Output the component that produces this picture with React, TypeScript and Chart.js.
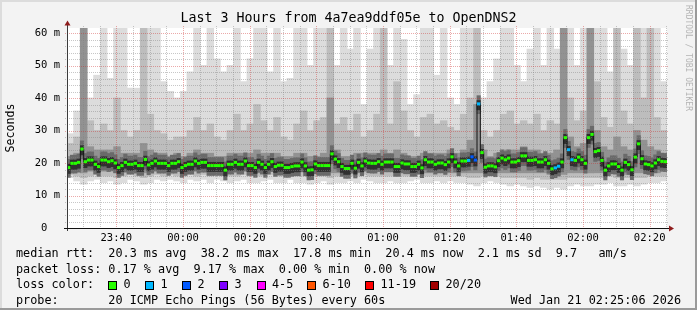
import React, { useEffect, useRef } from "react";
import { Chart, registerables } from "chart.js";

Chart.register(...registerables);

const W = 697;
const H = 310;

// ---------- text ----------
const TITLE = "Last 3 Hours from 4a7ea9ddf05e to OpenDNS2";
const Y_AXIS_TITLE = "Seconds";
const WATERMARK = "RRDTOOL / TOBI OETIKER";
const X_TICK_LABELS = ["23:40", "00:00", "00:20", "00:40", "01:00", "01:20", "01:40", "02:00", "02:20"];
const Y_TICK_VALUES = [0, 10, 20, 30, 40, 50, 60];
const Y_TICK_LABELS = ["0  ", "10 m", "20 m", "30 m", "40 m", "50 m", "60 m"];
const RTT_STATS = ["20.3 ms avg", "38.2 ms max", "17.8 ms min", "20.4 ms now", "2.1 ms sd", "9.7", "am/s"];
const LOSS_STATS = ["0.17 % avg", "9.17 % max", "0.00 % min", "0.00 % now"];
const LOSS_LEGEND_LABELS = ["0", "1", "2", "3", "4-5", "6-10", "11-19", "20/20"];
const LOSS_LEGEND_COLORS = ["#26ff00", "#00b8ff", "#0059ff", "#7e00ff", "#ff00ff", "#ff5500", "#ff0000", "#a10000"];
const PROBE_TEXT = "20 ICMP Echo Pings (56 Bytes) every 60s";
const DATE_TEXT = "Wed Jan 21 02:25:06 2026";

// graph starts at 23:25:12 (minutes of day)
const START_MIN = 23 * 60 + 25.2;
const SPAN_MIN = 180;
const Y_MAX = 61.54;

// ---------- data: median rtt per minute (ms) ----------
const MEDIAN_RTT = [
  18.6, 19.9, 19.9, 20.2, 24.3, 20.4, 20.9, 20.9, 19.6, 18.9,
  20.9, 20.9, 20.4, 20.7, 20.0, 18.6, 19.2, 20.2, 19.6, 19.6,
  19.9, 19.2, 19.2, 21.1, 19.4, 19.9, 20.6, 19.9, 19.9, 19.9,
  19.2, 19.9, 19.9, 20.4, 18.6, 19.2, 19.6, 19.6, 20.6, 19.9,
  20.2, 20.2, 19.2, 19.2, 19.2, 19.2, 19.2, 17.8, 19.6, 19.6,
  20.2, 19.6, 19.6, 20.6, 19.2, 19.2, 18.6, 20.2, 19.6, 18.6,
  19.6, 20.4, 18.9, 19.3, 19.3, 18.6, 18.6, 18.9, 19.1, 19.1,
  20.3, 19.1, 17.8, 17.9, 19.7, 19.2, 19.2, 19.2, 19.2, 22.8,
  21.2, 20.4, 18.9, 18.3, 18.3, 19.9, 18.4, 20.2, 19.1, 20.6,
  20.0, 19.9, 19.9, 20.4, 19.6, 20.3, 20.3, 20.3, 18.9, 18.9,
  20.0, 19.7, 19.7, 18.9, 18.9, 19.6, 18.5, 21.0, 20.3, 20.3,
  19.6, 20.0, 20.0, 19.5, 20.3, 21.9, 20.3, 19.1, 20.6, 20.6,
  20.8, 21.9, 20.9, 38.2, 23.2, 18.7, 19.1, 19.1, 18.8, 20.7,
  21.5, 21.0, 21.5, 20.3, 20.3, 20.7, 22.2, 22.2, 20.8, 20.8,
  21.0, 20.3, 20.3, 21.0, 19.9, 18.2, 18.5, 19.0, 20.3, 27.8,
  24.1, 21.0, 20.8, 21.8, 21.0, 19.9, 27.8, 28.8, 23.5, 23.8,
  20.8, 17.8, 19.1, 19.7, 19.7, 18.9, 17.8, 20.2, 19.5, 17.9,
  21.8, 25.9, 21.3, 19.7, 19.5, 19.1, 20.0, 21.0, 20.5, 20.4,
];

// minutes with packet loss, and the lost-packet count there
const LOSS_MINUTES = [120, 121, 122, 123, 146, 147, 150, 151];
const LOSS_COUNTS = [1, 2, 2, 1, 1, 1, 1, 1];

// ---------- data: smoke, one column per 2 minutes (ms) ----------
const SMOKE_LIGHT_LO = [
  15.5, 14.5, 13.5, 14.5, 15, 14, 14.5, 13.5, 14, 15,
  14.5, 13.5, 14, 15, 14.5, 15, 14.5, 14, 15, 14.5,
  15, 14, 15, 14.5, 14, 14.5, 15, 14, 14, 14.5,
  15, 14, 14, 15, 14, 14, 13.5, 14, 14.5, 13.5,
  14, 14, 14.5, 14, 15, 14.5, 14, 14, 14.5, 14,
  14, 14.5, 15, 14, 14, 14.5, 14, 14.5, 14, 14,
  13.5, 13, 14, 14.5, 14, 13.5, 13, 13.5, 13, 12.5,
  13, 12.5, 12, 12.5, 12, 13, 13.5, 13, 13, 13.5,
  13.5, 14, 13, 13, 13.5, 13, 13.5, 14, 14, 14.5,
];
const SMOKE_MID_LO = [
  16.5, 16, 15.5, 16, 16.5, 16, 16, 15.5, 16, 16.5,
  16, 15.5, 16, 16.5, 16, 16.5, 16, 16, 16.5, 16,
  16.5, 16, 16.5, 16, 16, 16, 16.5, 16, 16, 16,
  16.5, 16, 16, 16.5, 16, 16, 15.5, 16, 16, 15.5,
  16, 16, 16, 16, 16.5, 16, 16, 16, 16, 16,
  16, 16, 16.5, 16, 16, 16, 16, 16, 16, 16,
  15.5, 15.5, 16, 16, 16, 15.5, 15.5, 15.5, 15.5, 15,
  15.5, 15, 15, 15, 15, 15.5, 15.5, 15.5, 15.5, 15.5,
  15.5, 16, 15.5, 15.5, 15.5, 15.5, 15.5, 16, 16, 16,
];
const SMOKE_DARK_LO = [
  17.5, 17.5, 17, 17.5, 17.5, 17.5, 17.5, 17, 17.5, 17.5,
  17.5, 17, 17, 17.5, 17.5, 17.5, 17.5, 17, 17.5, 17.5,
  17.5, 17.5, 17.5, 17, 17, 17.5, 17.5, 17.5, 17, 17.5,
  17.5, 17.5, 17, 17, 17, 17.5, 17, 17, 17, 17,
  17, 17, 17, 17, 17.5, 17.5, 17.5, 17.5, 17.5, 17,
  17, 17, 17, 17, 17, 17, 17, 17, 17, 17,
  17, 17, 17, 17, 17, 17, 17, 17, 17, 17,
  17, 17, 16.5, 16.5, 16.5, 17, 17, 17, 17, 17,
  17, 17, 16.5, 16.5, 16.5, 17, 17, 17, 17, 17.5,
];
const SMOKE_DARK_HI = [
  22, 23, 62, 25, 24, 24, 24, 25, 23, 23,
  23, 26, 24, 23, 23, 22, 23, 22, 23, 24,
  23, 23, 22, 22, 23, 23, 23, 23, 24, 23,
  23, 23, 22, 22, 23, 23, 22, 22, 23, 40,
  24, 22, 22, 23, 23, 23, 23, 24, 23, 24,
  23, 22, 22, 23, 23, 23, 23, 24, 23, 24,
  27, 38, 24, 22, 23, 24, 24, 24, 25, 24,
  24, 23, 23, 24, 62, 28, 25, 26, 62, 30,
  25, 24, 28, 25, 24, 30, 27, 25, 24, 23,
];
const SMOKE_MID_HI = [
  26, 28, 62, 33, 30, 32, 30, 40, 30, 28,
  30, 62, 35, 30, 29, 27, 28, 28, 30, 34,
  30, 32, 28, 27, 30, 35, 30, 32, 38, 33,
  30, 34, 28, 27, 32, 36, 30, 33, 34, 62,
  32, 34, 30, 35, 28, 30, 35, 62, 32, 45,
  36, 30, 28, 34, 35, 32, 33, 31, 30, 35,
  40, 62, 30, 28, 30, 35, 36, 32, 33, 32,
  35, 30, 33, 32, 62, 40, 33, 36, 62, 45,
  34, 31, 62, 36, 32, 62, 40, 62, 34, 30,
];
const SMOKE_LIGHT_HI = [
  29, 36, 62, 40, 47, 62, 46, 62, 62, 43,
  43, 62, 62, 62, 45, 42, 40, 42, 48, 62,
  50, 62, 52, 48, 50, 62, 45, 52, 62, 62,
  48, 62, 45, 46, 62, 62, 50, 62, 62, 62,
  50, 62, 55, 62, 38, 55, 62, 62, 50, 62,
  58, 38, 41, 62, 62, 47, 62, 40, 38, 62,
  62, 62, 40, 45, 52, 62, 62, 50, 45, 55,
  62, 50, 62, 55, 62, 62, 50, 62, 62, 62,
  62, 48, 62, 55, 50, 62, 62, 62, 62, 45,
];

function lossColorIndex(n: number): number {
  if (n <= 0) return 0;
  if (n <= 3) return n;
  if (n <= 5) return 4;
  if (n <= 10) return 5;
  if (n <= 19) return 6;
  return 7;
}

function tickMinute(label: string): number {
  const [h, m] = label.split(":").map(Number);
  let t = h * 60 + m;
  if (h < 12) t += 1440;
  return t - START_MIN;
}

const MONO = '"DejaVu Sans Mono", monospace';
const GRID_MINOR = "rgba(130,130,130,0.45)";
const GRID_MAJOR = "rgba(205,40,40,0.4)";

const chromePlugin = {
  id: "rrdChrome",
  beforeDraw(chart: any) {
    const { ctx, chartArea: a } = chart;
    ctx.save();
    ctx.fillStyle = "#f3f3f3";
    ctx.fillRect(0, 0, W, H);
    ctx.fillStyle = "#dcdcdc";
    ctx.fillRect(0, 0, W, 2);
    ctx.fillRect(0, 0, 2, H);
    ctx.fillStyle = "#9a9a9a";
    ctx.fillRect(0, H - 2, W, 2);
    ctx.fillRect(W - 2, 0, 2, H);
    ctx.fillStyle = "#ffffff";
    ctx.fillRect(a.left, a.top, a.right - a.left, a.bottom - a.top);
    ctx.restore();
  },
  afterDatasetDraw(chart: any, args: any) {
    if (args.index !== 4) return;
    const { ctx, chartArea: a, scales } = chart;
    const x = scales.x;
    const y = scales.y;
    ctx.save();
    ctx.lineWidth = 1;
    ctx.setLineDash([1, 1]);
    const hline = (v: number, color: string) => {
      const py = Math.round(y.getPixelForValue(v)) + 0.5;
      ctx.strokeStyle = color;
      ctx.beginPath();
      ctx.moveTo(a.left - 2, py);
      ctx.lineTo(a.right + 2, py);
      ctx.stroke();
    };
    const vline = (m: number, color: string) => {
      const px = Math.round(x.getPixelForValue(m)) + 0.5;
      ctx.strokeStyle = color;
      ctx.beginPath();
      ctx.moveTo(px, a.top - 2);
      ctx.lineTo(px, a.bottom + 2);
      ctx.stroke();
    };
    for (let v = 2; v < Y_MAX; v += 2) if (v % 10 !== 0) hline(v, GRID_MINOR);
    for (let t = 1410; t <= 1590; t += 5) {
      const m = t - START_MIN;
      if (m <= 0 || m >= SPAN_MIN) continue;
      if (t % 20 !== 0) vline(m, GRID_MINOR);
    }
    for (let v = 10; v < Y_MAX; v += 10) hline(v, GRID_MAJOR);
    for (let t = 1420; t <= 1590; t += 20) {
      const m = t - START_MIN;
      if (m <= 0 || m >= SPAN_MIN) continue;
      vline(m, GRID_MAJOR);
    }
    ctx.restore();
  },
  afterDraw(chart: any) {
    const { ctx, chartArea: a, scales } = chart;
    const x = scales.x;
    const y = scales.y;
    ctx.save();
    ctx.setLineDash([]);
    // axes
    ctx.strokeStyle = "#3a3a3a";
    ctx.lineWidth = 1;
    ctx.beginPath();
    ctx.moveTo(a.left + 0.5, a.bottom + 3);
    ctx.lineTo(a.left + 0.5, a.top - 3);
    ctx.stroke();
    ctx.strokeStyle = "#111111";
    ctx.beginPath();
    ctx.moveTo(a.left - 3, a.bottom + 0.5);
    ctx.lineTo(a.right + 3, a.bottom + 0.5);
    ctx.stroke();
    // arrows
    ctx.fillStyle = "#8f1d1d";
    ctx.beginPath();
    ctx.moveTo(a.left - 2.5, a.top - 2.5);
    ctx.lineTo(a.left + 3.5, a.top - 2.5);
    ctx.lineTo(a.left + 0.5, a.top - 7.5);
    ctx.closePath();
    ctx.fill();
    ctx.beginPath();
    ctx.moveTo(a.right + 2, a.bottom - 2.5);
    ctx.lineTo(a.right + 2, a.bottom + 3.5);
    ctx.lineTo(a.right + 7, a.bottom + 0.5);
    ctx.closePath();
    ctx.fill();

    // title
    ctx.fillStyle = "#000000";
    ctx.textBaseline = "middle";
    ctx.textAlign = "center";
    ctx.font = `13.3px ${MONO}`;
    ctx.fillText(TITLE, W / 2, 19);

    // y tick labels
    ctx.font = `10.5px ${MONO}`;
    ctx.textAlign = "right";
    Y_TICK_VALUES.forEach((v, i) => {
      ctx.fillText(Y_TICK_LABELS[i], 60, y.getPixelForValue(v));
    });
    // x tick labels
    ctx.textAlign = "center";
    for (const lbl of X_TICK_LABELS) {
      ctx.fillText(lbl, x.getPixelForValue(tickMinute(lbl)), 238);
    }

    // y axis title
    ctx.font = `11.6px ${MONO}`;
    ctx.save();
    ctx.translate(11, (a.top + a.bottom) / 2);
    ctx.rotate(-Math.PI / 2);
    ctx.textAlign = "center";
    ctx.fillText(Y_AXIS_TITLE, 0, 0);
    ctx.restore();

    // watermark
    ctx.save();
    ctx.font = `8px ${MONO}`;
    ctx.fillStyle = "#b4b4b4";
    ctx.translate(688, 5);
    ctx.rotate(Math.PI / 2);
    ctx.textAlign = "left";
    ctx.fillText(WATERMARK, 0, 0);
    ctx.restore();

    // legend (monospace columns)
    ctx.font = `11.8px ${MONO}`;
    const cw = ctx.measureText("0").width;
    const col = (c: number) => 16 + c * cw;
    ctx.textAlign = "left";
    ctx.fillStyle = "#000000";
    const rows = [254, 269.5, 285, 300.5];
    ctx.fillText("median rtt:", col(0), rows[0]);
    const rttCols = [13, 26, 39, 52, 65, 76, 82];
    RTT_STATS.forEach((s, i) => ctx.fillText(s, col(rttCols[i]), rows[0]));
    ctx.fillText("packet loss:", col(0), rows[1]);
    const lossCols = [13, 25, 37, 49];
    LOSS_STATS.forEach((s, i) => ctx.fillText(s, col(lossCols[i]), rows[1]));
    ctx.fillText("loss color:", col(0), rows[2]);
    const boxX = [108, 145, 182, 219, 256.5, 307, 365, 430];
    LOSS_LEGEND_LABELS.forEach((s, i) => {
      const bx = Math.round(boxX[i]);
      const by = Math.round(rows[2] - 4.5);
      ctx.fillStyle = LOSS_LEGEND_COLORS[i];
      ctx.fillRect(bx, by, 9, 9);
      ctx.strokeStyle = "#000000";
      ctx.lineWidth = 1;
      ctx.strokeRect(bx + 0.5, by + 0.5, 8, 8);
      ctx.fillStyle = "#000000";
      ctx.fillText(s, boxX[i] + 15.5, rows[2]);
    });
    ctx.fillText("probe:", col(0), rows[3]);
    ctx.fillText(PROBE_TEXT, col(13), rows[3]);
    ctx.textAlign = "right";
    ctx.fillText(DATE_TEXT, 681, rows[3]);
    ctx.restore();
  },
};

export default function App() {
  const canvasRef = useRef<HTMLCanvasElement | null>(null);

  useEffect(() => {
    const canvas = canvasRef.current;
    if (!canvas) return;

    const smokeCol = (lo: number[], hi: number[]) =>
      lo.map((v, i) => ({ x: 2 * i + 1, y: [v, hi[i]] }));
    const lossByMinute: Record<number, number> = {};
    LOSS_MINUTES.forEach((m, i) => (lossByMinute[m] = LOSS_COUNTS[i]));
    const medianPts = MEDIAN_RTT.map((v, i) => ({ x: i + 0.5, y: v }));
    const greenColors = MEDIAN_RTT.map((_, i) => LOSS_LEGEND_COLORS[lossColorIndex(lossByMinute[i] || 0)]);

    const smokeW = 600 / 90;
    const minW = 600 / 180;
    const barBase = {
      type: "bar" as const,
      grouped: false,
      borderWidth: 0,
      inflateAmount: 0.4,
    };

    const chart = new Chart(canvas, {
      type: "bar",
      data: {
        datasets: [
          { ...barBase, data: smokeCol(SMOKE_LIGHT_LO, SMOKE_LIGHT_HI), backgroundColor: "#dcdcdc", barThickness: smokeW, order: 10 },
          { ...barBase, data: smokeCol(SMOKE_MID_LO, SMOKE_MID_HI), backgroundColor: "#bdbdbd", barThickness: smokeW, order: 9 },
          { ...barBase, data: smokeCol(SMOKE_DARK_LO, SMOKE_DARK_HI), backgroundColor: "#929292", barThickness: smokeW, order: 8 },
          { ...barBase, data: MEDIAN_RTT.map((v, i) => ({ x: i + 0.5, y: [v - 3, v + 2.5] })), backgroundColor: "#6a6a6a", barThickness: minW, order: 7 },
          { ...barBase, data: MEDIAN_RTT.map((v, i) => ({ x: i + 0.5, y: [v - 1.8, v + 1.0] })), backgroundColor: "#303030", barThickness: minW, order: 6 },
          {
            type: "line",
            data: medianPts,
            stepped: "middle",
            borderColor: "#151515",
            borderWidth: 1,
            pointRadius: 0,
            fill: false,
            order: 5,
          },
          {
            type: "line",
            data: medianPts,
            showLine: false,
            pointStyle: "line",
            pointRadius: minW / 2,
            pointHoverRadius: minW / 2,
            pointBorderWidth: 3,
            pointBorderColor: greenColors,
            pointBackgroundColor: greenColors,
            order: 4,
          },
        ] as any,
      },
      options: {
        responsive: false,
        devicePixelRatio: 1,
        animation: false,
        events: [],
        layout: { padding: { left: 67, top: 28, right: 30, bottom: 82 } },
        plugins: { legend: { display: false }, tooltip: { enabled: false }, title: { display: false } },
        scales: {
          x: { type: "linear", min: 0, max: SPAN_MIN, display: false, offset: false },
          y: { type: "linear", min: 0, max: Y_MAX, display: false },
        },
      },
      plugins: [chromePlugin],
    });

    return () => chart.destroy();
  }, []);

  return (
    <div style={{ position: "fixed", left: 0, top: 0, width: W, height: H }}>
      <canvas ref={canvasRef} width={W} height={H} style={{ display: "block", width: W, height: H }} />
    </div>
  );
}
